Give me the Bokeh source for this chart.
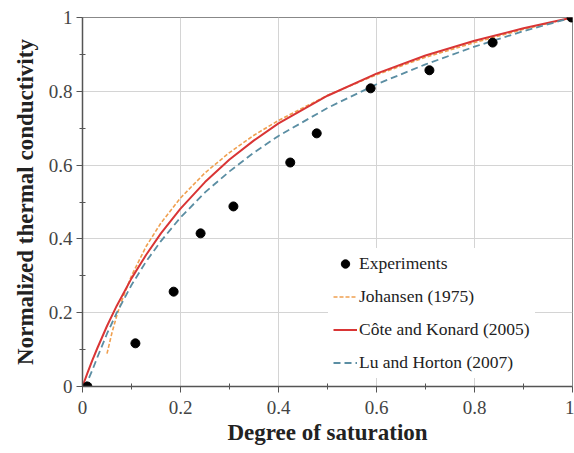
from bokeh.plotting import figure
from bokeh.models import Range1d, FixedTicker, Legend, LegendItem
from bokeh.embed import file_html
from bokeh.resources import INLINE

# Experimental data
exp_x = [0.01, 0.108, 0.186, 0.241, 0.308, 0.424, 0.478, 0.588, 0.708, 0.837, 0.998]
exp_y = [0.0, 0.117, 0.257, 0.415, 0.488, 0.607, 0.686, 0.808, 0.857, 0.932, 1.0]

# Johansen (1975)
joh_x = [0.05, 0.06, 0.07, 0.08, 0.1, 0.13, 0.16, 0.2, 0.25, 0.3, 0.35, 0.4, 0.5, 0.6, 0.7, 0.8, 0.9, 1.0]
joh_y = [0.089, 0.145, 0.192, 0.232, 0.300, 0.380, 0.443, 0.511, 0.579, 0.634, 0.681, 0.721, 0.789, 0.845, 0.892, 0.932, 0.968, 1.0]

# Cote and Konard (2005)
ck_x = [0.0, 0.01, 0.02, 0.03, 0.05, 0.07, 0.1, 0.13, 0.16, 0.2, 0.25, 0.3, 0.35, 0.4, 0.5, 0.6, 0.7, 0.8, 0.9, 1.0]
ck_y = [0.0, 0.036, 0.071, 0.103, 0.164, 0.219, 0.293, 0.357, 0.415, 0.482, 0.554, 0.615, 0.667, 0.713, 0.788, 0.848, 0.897, 0.937, 0.971, 1.0]

# Lu and Horton (2007)
lh_x = [0.0, 0.01, 0.02, 0.03, 0.05, 0.07, 0.1, 0.13, 0.16, 0.2, 0.25, 0.3, 0.35, 0.4, 0.5, 0.6, 0.7, 0.8, 0.9, 1.0]
lh_y = [0.0, 0.013, 0.044, 0.078, 0.143, 0.200, 0.275, 0.339, 0.394, 0.458, 0.526, 0.583, 0.634, 0.679, 0.755, 0.819, 0.873, 0.921, 0.963, 1.0]

ticks = [0, 0.2, 0.4, 0.6, 0.8, 1]
tick_labels = ["0", "0.2", "0.4", "0.6", "0.8", "1"]
minor = [0.1, 0.3, 0.5, 0.7, 0.9]

SERIF = "Liberation Serif"

p = figure(width=574, height=453, output_backend="svg", toolbar_location=None,
           x_range=Range1d(0, 1), y_range=Range1d(0, 1),
           min_border_left=82, min_border_right=2, min_border_top=17, min_border_bottom=67)

p.outline_line_color = "#888888"
p.outline_line_width = 1
p.background_fill_color = "white"
p.border_fill_color = "white"

for ax in (p.xaxis[0], p.yaxis[0]):
    ax.ticker = FixedTicker(ticks=ticks, minor_ticks=minor)
    ax.major_label_overrides = {t: l for t, l in zip(ticks, tick_labels)}
    ax.axis_line_color = "#555555"
    ax.axis_line_width = 1.5
    ax.major_tick_line_color = "#555555"
    ax.minor_tick_line_color = "#555555"
    ax.major_tick_out = 6
    ax.major_tick_in = 0
    ax.minor_tick_out = 3
    ax.minor_tick_in = 3
    ax.major_label_text_font = SERIF
    ax.major_label_text_font_size = "19px"
    ax.major_label_text_color = "#444444"
    ax.axis_label_text_font = SERIF
    ax.axis_label_text_font_style = "bold"
    ax.axis_label_text_font_size = "23px"
    ax.axis_label_text_color = "#222222"

p.xaxis.axis_label = "Degree of saturation"
p.yaxis.axis_label = "Normalized thermal conductivity"
p.xaxis.major_label_standoff = 8
p.yaxis.major_label_standoff = 4
p.xaxis.axis_label_standoff = 3
p.yaxis.axis_label_standoff = 8

p.xgrid.ticker = FixedTicker(ticks=ticks)
p.ygrid.ticker = FixedTicker(ticks=ticks)
p.xgrid.grid_line_color = "#d4d4d4"
p.ygrid.grid_line_color = "#d4d4d4"

r_joh = p.line(joh_x, joh_y, line_color="#f0a050", line_width=1.6, line_dash="4 2")
r_ck = p.line(ck_x, ck_y, line_color="#d93535", line_width=2)
r_lh = p.line(lh_x, lh_y, line_color="#5b8ea3", line_width=1.8, line_dash="7 4")
r_exp = p.scatter(exp_x, exp_y, size=9, fill_color="black", line_color="black")

legend = Legend(items=[
    LegendItem(label="Experiments", renderers=[r_exp]),
    LegendItem(label="Johansen (1975)", renderers=[r_joh]),
    LegendItem(label="Côte and Konard (2005)", renderers=[r_ck]),
    LegendItem(label="Lu and Horton (2007)", renderers=[r_lh]),
], location=(246, 8))
legend.label_text_font = SERIF
legend.label_text_font_size = "17.5px"
legend.label_text_color = "#222222"
legend.border_line_alpha = 0
legend.background_fill_alpha = 1
legend.spacing = 12
legend.label_height = 21
legend.glyph_height = 21
legend.glyph_width = 24
legend.label_standoff = 2
legend.padding = 5
p.add_layout(legend, "center")

open("out.html", "w").write(file_html(p, INLINE))
